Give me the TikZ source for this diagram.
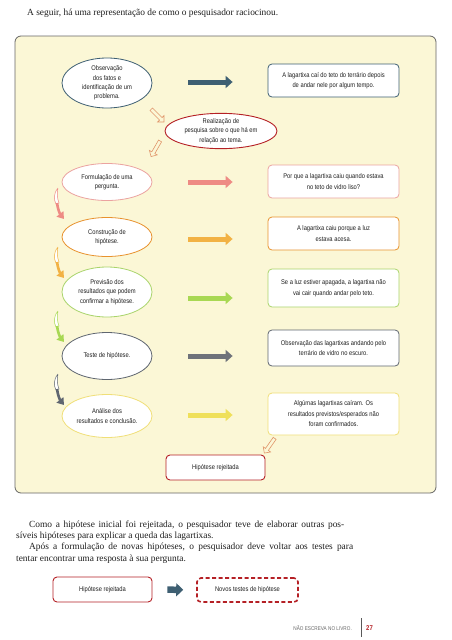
\documentclass[tikz,border=0pt]{standalone}
\usepackage{fontspec}
\setmainfont{Liberation Serif}
\newfontfamily\cond[FakeStretch=0.85]{Liberation Sans}
\usetikzlibrary{shapes.geometric,shapes.arrows,arrows.meta,calc}
\definecolor{panel}{HTML}{FBF7D6}
\definecolor{slate}{HTML}{3E5F72}
\definecolor{dred}{HTML}{B52025}
\definecolor{pinkc}{HTML}{EBA3A0}
\definecolor{salmon}{HTML}{EE8B84}
\definecolor{orangec}{HTML}{E8922E}
\definecolor{oarrow}{HTML}{F2B244}
\definecolor{greenc}{HTML}{A9D46B}
\definecolor{garrow}{HTML}{A8D853}
\definecolor{grayc}{HTML}{5F6670}
\definecolor{grarrow}{HTML}{6E727A}
\definecolor{yellowc}{HTML}{F0DF78}
\definecolor{yarrow}{HTML}{EFE05A}
\definecolor{hollow}{HTML}{E0956A}
\definecolor{txt}{HTML}{1E1E1E}
\tikzset{
  ell/.style={ellipse, draw=#1, fill=white, line width=0.8pt, inner sep=0pt, align=center,
    text=txt, font=\cond\fontsize{6.8}{9.3}\selectfont},
  infobox/.style={rectangle, rounded corners=4pt, draw=#1, fill=white, line width=0.8pt,
    inner sep=0pt, minimum width=131pt, align=center, text=txt,
    font=\cond\fontsize{6.8}{10.5}\selectfont},
  barrow/.style={draw=#1, line width=5pt, -{Triangle[width=12pt,length=7pt,fill=#1,color=#1]}},
  harrow/.style={single arrow, draw=hollow, line width=0.6pt, minimum width=9pt,
    minimum height=18pt, single arrow head extend=2.5pt, inner sep=1.3pt},
  curly/.style={draw=#1, line width=2.6pt, -{Triangle[width=8.5pt,length=6.5pt,fill=#1,color=#1]}},
  curltail/.style={draw=#1, line width=0.5pt, fill=white},
  body/.style={anchor=base west, inner sep=0pt, font=\fontsize{9.4}{11}\selectfont, text=txt}
}
\begin{document}
\begin{tikzpicture}[x=1pt,y=-1pt]
\useasboundingbox (0,0) rectangle (451,640);
\fill[white] (0,0) rectangle (451,640);

\node[body] (top) at (27,15.5) {A seguir, há uma representação de como o pesquisador raciocinou.};

% panel
\draw[draw=gray!80!black, line width=0.8pt, fill=panel, rounded corners=6pt] (15,36) rectangle (436,493);

% ellipses
\node[ell=slate, minimum width=90pt, minimum height=50pt] (e1) at (107,83)
  {Observação\\dos fatos e\\identificação de um\\problema.};
\node[ell=dred, minimum width=112pt, minimum height=33pt, line width=0.9pt] (e2) at (221,131)
  {Realização de\\pesquisa sobre o que há em\\relação ao tema.};
\node[ell=pinkc, minimum width=90pt, minimum height=37pt] (e3) at (107,182)
  {Formulação de uma\\pergunta.};
\node[ell=orangec, minimum width=90pt, minimum height=39pt] (e4) at (107,237)
  {Construção de\\hipótese.};
\node[ell=greenc, minimum width=90pt, minimum height=50pt] (e5) at (107,292)
  {Previsão dos\\resultados que podem\\confirmar a hipótese.};
\node[ell=grayc, minimum width=90pt, minimum height=47pt] (e6) at (107,356)
  {Teste de hipótese.};
\node[ell=yellowc, minimum width=90pt, minimum height=43pt] (e7) at (107,416)
  {Análise dos\\resultados e conclusão.};

% boxes
\node[infobox=slate, minimum height=33pt] (b1) at (333.5,80.5)
  {A lagartixa caí do teto do terrário depois\\de andar nele por algum tempo.};
\node[infobox=pinkc, minimum height=33pt] (b3) at (333.5,181.5)
  {Por que a lagartixa caiu quando estava\\no teto de vidro liso?};
\node[infobox=orangec, minimum height=33pt] (b4) at (333.5,233.5)
  {A lagartixa caiu porque a luz\\estava acesa.};
\node[infobox=greenc, minimum height=38pt] (b5) at (333.5,288)
  {Se a luz estiver apagada, a lagartixa não\\vai cair quando andar pelo teto.};
\node[infobox=grayc, minimum height=36pt] (b6) at (333.5,348)
  {Observação das lagartixas andando pelo\\terrário de vidro no escuro.};
\node[infobox=yellowc, minimum height=42pt] (b7) at (333.5,414)
  {Algúmas lagartixas caíram. Os\\resultados previstos/esperados não\\foram confirmados.};
\node[infobox=dred, minimum width=99pt, minimum height=25pt, line width=0.9pt] (rej) at (215.5,467.5)
  {Hipótese rejeitada};

% horizontal arrows
\draw[barrow=slate, shorten <=36pt, shorten >=35pt] (e1.east |- 0,82) -- (b1.west |- 0,82);
\draw[barrow=salmon, shorten <=36pt, shorten >=35pt] (e3.east |- 0,182) -- (b3.west |- 0,182);
\draw[barrow=oarrow, shorten <=36pt, shorten >=35pt] (e4.east |- 0,239) -- (b4.west |- 0,239);
\draw[barrow=garrow, shorten <=36pt, shorten >=35pt] (e5.east |- 0,298) -- (b5.west |- 0,298);
\draw[barrow=grarrow, shorten <=36pt, shorten >=35pt] (e6.east |- 0,356) -- (b6.west |- 0,356);
\draw[barrow=yarrow, shorten <=36pt, shorten >=35pt] (e7.east |- 0,415) -- (b7.west |- 0,415);

% hollow arrows
\node[harrow, rotate=-45] (h1) at (157,115) {};
\node[harrow, rotate=-120] (h2) at (156,148) {};
\node[harrow, rotate=-125] (h3) at (270,445) {};

% curly arrows on the left
\draw[curltail=salmon] (58,188) .. controls (53,194) and (54,200) .. (56,204) -- (59,203) .. controls (57,198) and (57,193) .. (58,188);
\draw[curly=salmon] (57,203) .. controls (58,210) and (60,214) .. (64,219);
\draw[curltail=oarrow] (58,247) .. controls (53,253) and (54,259) .. (56,263) -- (59,262) .. controls (57,257) and (57,252) .. (58,247);
\draw[curly=oarrow] (57,262) .. controls (58,269) and (60,273) .. (64,278);
\draw[curltail=garrow] (58,311) .. controls (53,317) and (54,323) .. (56,327) -- (59,326) .. controls (57,321) and (57,316) .. (58,311);
\draw[curly=garrow] (57,326) .. controls (58,333) and (60,337) .. (64,342);
\draw[curltail=grayc] (58,374) .. controls (53,380) and (54,386) .. (56,390) -- (59,389) .. controls (57,384) and (57,379) .. (58,374);
\draw[curly=grayc] (57,389) .. controls (58,396) and (60,400) .. (64,405);

% body text
\node[body] (p1) at (29,527.5) {\makebox[315pt][s]{Como a hipótese inicial foi rejeitada, o pesquisador teve de elaborar outras pos-}};
\node[body] (p2) at (16,538.5) {síveis hipóteses para explicar a queda das lagartixas.};
\node[body] (p3) at (29,549.5) {\makebox[324pt][s]{Após a formulação de novas hipóteses, o pesquisador deve voltar aos testes para}};
\node[body] (p4) at (16,561) {tentar encontrar uma resposta à sua pergunta.};

% bottom boxes
\node[infobox=dred, minimum width=99pt, minimum height=25pt, line width=0.9pt] (rej2) at (102.5,589.5)
  {Hipótese rejeitada};
\node[infobox=dred, minimum width=101pt, minimum height=24pt, line width=1.6pt, dashed,
  dash pattern=on 4pt off 2.5pt, fill=none] (novos) at (247.5,590)
  {Novos testes de hipótese};
\draw[draw=slate, line width=6.5pt, -{Triangle[width=13pt,length=7pt,fill=slate,color=slate]},
  shorten <=15pt, shorten >=13pt] (rej2.east) -- (novos.west);

% footer
\node[anchor=base east, inner sep=0pt, text=gray!80!black, font=\cond\fontsize{5.5}{6}\selectfont] (foot) at (352,630) {NÃO ESCREVA NO LIVRO.};
\draw[gray!70!black, line width=0.6pt] (361,618) -- (361,637);
\node[anchor=base west, inner sep=0pt, text=dred, font=\cond\bfseries\fontsize{7}{8}\selectfont] (pg) at (366,630) {27};
\end{tikzpicture}
\end{document}
